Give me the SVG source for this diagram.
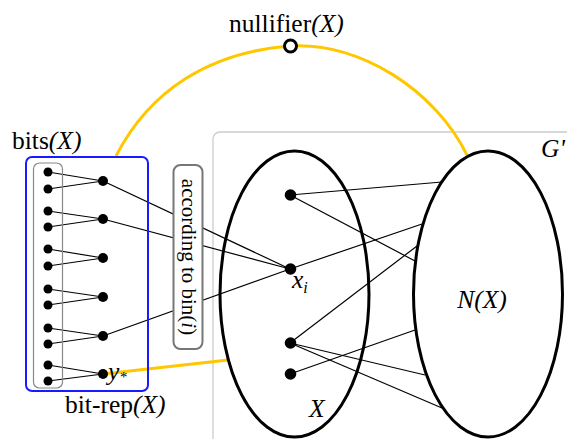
<svg xmlns="http://www.w3.org/2000/svg" width="567" height="439" viewBox="0 0 567 439">
<style>
.t{font-family:"Liberation Serif","Times New Roman",serif;font-size:25.5px;fill:#000}
.it{font-style:italic}
.e{stroke:#000;stroke-width:1.2;fill:none}
.y{stroke:#ffc700;stroke-width:3;fill:none}
.big{fill:none;stroke:#000;stroke-width:3}
.n{fill:#000}
</style>
<rect width="567" height="439" fill="#fff"/>
<g id="Gprime">
<rect x="213" y="132" width="400" height="340" rx="7" fill="none" stroke="#cccccc" stroke-width="1.3"/>
<text class="t it" x="541" y="157">G'</text>
</g>
<g id="connectors">
<path class="y" d="M116,156 C150,90 210,52 290,46 C360,42 435,90 467,155"/>
<line class="y" x1="103" y1="374" x2="228" y2="360"/>
<g class="e">
<line x1="48" y1="172" x2="103" y2="181"/><line x1="48" y1="189" x2="103" y2="181"/>
<line x1="48" y1="211" x2="103" y2="219"/><line x1="48" y1="227" x2="103" y2="219"/>
<line x1="48" y1="249" x2="103" y2="258"/><line x1="48" y1="266" x2="103" y2="258"/>
<line x1="48" y1="289" x2="103" y2="297"/><line x1="48" y1="305" x2="103" y2="297"/>
<line x1="48" y1="328" x2="103" y2="336"/><line x1="48" y1="344" x2="103" y2="336"/>
<line x1="48" y1="365" x2="103" y2="374"/><line x1="48" y1="381" x2="103" y2="374"/>
<line x1="103" y1="181" x2="290" y2="269"/>
<line x1="103" y1="219" x2="290" y2="269"/>
<line x1="103" y1="336" x2="290" y2="269"/>
<line x1="290" y1="195" x2="442" y2="182"/>
<line x1="290" y1="195" x2="415" y2="261"/>
<line x1="290" y1="269" x2="422" y2="224"/>
<line x1="290" y1="343" x2="417" y2="246"/>
<line x1="290" y1="374" x2="415" y2="330"/>
<line x1="290" y1="343" x2="425" y2="375"/>
<line x1="290" y1="343" x2="442" y2="408"/>
</g>
</g>
<g id="bits">
<rect x="26" y="157" width="122" height="234" rx="6" fill="none" stroke="#1a1aff" stroke-width="2"/>
<rect x="33.5" y="163" width="29" height="225" rx="6" fill="none" stroke="#888" stroke-width="1.2"/>
<g class="n">
<circle cx="48" cy="172" r="4.5"/><circle cx="48" cy="189" r="4.5"/>
<circle cx="48" cy="211" r="4.5"/><circle cx="48" cy="227" r="4.5"/>
<circle cx="48" cy="249" r="4.5"/><circle cx="48" cy="266" r="4.5"/>
<circle cx="48" cy="289" r="4.5"/><circle cx="48" cy="305" r="4.5"/>
<circle cx="48" cy="328" r="4.5"/><circle cx="48" cy="344" r="4.5"/>
<circle cx="48" cy="365" r="4.5"/><circle cx="48" cy="381" r="4.5"/>
</g>
<g class="n">
<circle cx="103" cy="181" r="5"/><circle cx="103" cy="219" r="5"/>
<circle cx="103" cy="258" r="5"/><circle cx="103" cy="297" r="5"/>
<circle cx="103" cy="336" r="5"/><circle cx="103" cy="374" r="5"/>
</g>
<text class="t" x="12" y="149">bits<tspan class="it">(X)</tspan></text>
<text class="t" x="65" y="413">bit-rep<tspan class="it">(X)</tspan></text>
<text class="t it" x="108" y="380">y<tspan style="font-size:15px" dy="2">*</tspan></text>
</g>
<g id="binbox">
<rect x="173.5" y="165" width="29" height="184" rx="7" fill="#fff" stroke="#777" stroke-width="2"/>
<text class="t" style="font-size:21px" text-anchor="middle" transform="translate(188,257) rotate(90)" y="6">according to bin(<tspan class="it">i</tspan>)</text>
</g>
<g id="nullifier">
<circle cx="290.5" cy="46" r="6" fill="#fff" stroke="#000" stroke-width="3"/>
<text class="t" x="229" y="32">nullifier<tspan class="it">(X)</tspan></text>
</g>
<g id="X">
<ellipse class="big" cx="294.5" cy="294" rx="74.5" ry="143"/>
<text class="t it" x="309" y="417">X</text>
<g class="n">
<circle cx="290.5" cy="195" r="5.8"/><circle cx="290.5" cy="269" r="5.8"/>
<circle cx="290.5" cy="343" r="5.8"/><circle cx="290.5" cy="374" r="5.8"/>
</g>
<text class="t it" x="292" y="288">x<tspan style="font-size:16px" dy="5">i</tspan></text>
</g>
<g id="NX">
<ellipse class="big" cx="488" cy="294" rx="74.5" ry="143"/>
<text class="t it" x="482" y="308" text-anchor="middle">N(X)</text>
</g>
</svg>
